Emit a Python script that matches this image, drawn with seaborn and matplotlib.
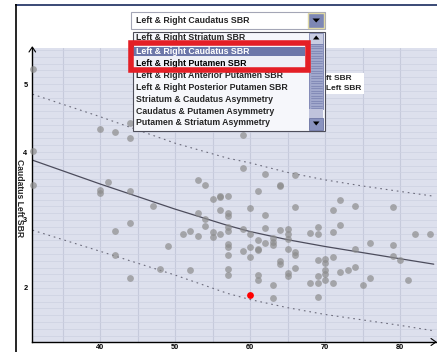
import matplotlib
matplotlib.use("Agg")
import matplotlib.pyplot as plt
import matplotlib.patches as mpatches
from matplotlib.ticker import MultipleLocator, FuncFormatter
import seaborn as sns

# scatter data (age vs caudatus left SBR)
ages = [31, 31, 31,
        40, 40, 40, 41, 42, 42, 42,
        44, 44, 44, 44, 44, 47, 48, 49, 51, 52, 52,
        53, 53, 53, 54, 54, 54, 55, 55, 55, 56, 56, 56, 56,
        57, 57, 57, 57, 57, 57, 57, 57, 57, 57,
        59, 59, 59, 59, 60, 60, 60, 60,
        61, 61, 61, 61, 61, 61, 62, 62, 62, 62,
        63, 63, 63, 63, 63, 64, 64, 64, 64, 64,
        65, 65, 65, 65, 65, 65, 66, 66, 66, 66, 66,
        68, 68, 69, 69, 69, 69, 69, 69, 70, 70, 70, 70, 70,
        71, 71, 71, 71, 72, 72, 72, 73, 74, 74, 74, 75, 76, 76,
        79, 79, 79, 80, 81, 82, 84]
sbr = [5.22, 4.02, 3.52,
       4.34, 3.44, 3.39, 3.56, 4.30, 2.84, 2.49,
       4.42, 4.20, 3.42, 2.96, 2.15, 3.21, 2.28, 2.62, 2.79, 2.84, 2.27,
       3.59, 3.10, 2.76, 3.52, 3.01, 2.91, 3.31, 2.82, 2.75, 3.36, 3.34, 3.15, 2.80,
       3.36, 3.10, 3.06, 2.89, 2.84, 2.65, 2.60, 2.49, 2.28, 2.19,
       4.25, 3.76, 2.86, 2.55, 3.17, 2.79, 2.60, 2.45,
       3.43, 2.71, 2.57, 2.56, 2.19, 2.11, 3.68, 3.08, 2.88, 2.66,
       2.73, 2.68, 2.63, 2.04, 1.85, 3.52, 3.50, 2.85, 2.40, 2.35,
       2.86, 2.80, 2.72, 2.57, 2.22, 2.17, 3.66, 3.19, 2.53, 2.48, 2.30,
       2.81, 2.08, 2.89, 2.79, 2.41, 2.18, 2.08, 1.87, 2.42, 2.36, 2.27, 2.21, 2.11,
       3.15, 2.82, 2.46, 2.08, 3.29, 2.93, 2.24, 2.26, 3.20, 2.58, 2.31, 2.05, 2.66, 2.15,
       3.19, 2.63, 2.47, 2.41, 2.11, 2.80, 2.80]
patient_age = [60]
patient_sbr = [1.89]

# fitted curve and prediction band
fit_age = [31, 40, 50, 57, 60, 65, 70, 75, 80, 84.5]
fit_sbr = [3.88, 3.53, 3.16, 2.92, 2.83, 2.71, 2.61, 2.52, 2.43, 2.35]
upper_sbr = [4.85, 4.52, 4.13, 3.91, 3.84, 3.70, 3.59, 3.50, 3.42, 3.35]
lower_sbr = [2.85, 2.54, 2.19, 1.92, 1.83, 1.71, 1.61, 1.53, 1.45, 1.37]

menu_items = ["Left & Right Striatum SBR", "Left & Right Caudatus SBR",
              "Left & Right Putamen SBR", "Left & Right Anterior Putamen SBR",
              "Left & Right Posterior Putamen SBR", "Striatum & Caudatus Asymmetry",
              "Caudatus & Putamen Asymmetry", "Putamen & Striatum Asymmetry"]
selected = "Left & Right Caudatus SBR"
legend_bits = ["ft SBR", "Left SBR"]  # the only parts of the legend not hidden by the list

sns.set_style("white")
plt.rcParams['font.family'] = ['Liberation Sans', 'DejaVu Sans']
plt.rcParams['font.weight'] = 'bold'

W, H = 437, 352
fig = plt.figure(figsize=(W / 100, H / 100), dpi=100)
ax = fig.add_axes([32 / W, (H - 342) / H, (W - 32) / W, (342 - 48) / H])
ax.set_facecolor('#dde0ed')

ax.set_xlim(30.93, 84.93)
ax.set_ylim(1.205, 5.53)
ax.xaxis.set_major_locator(MultipleLocator(5))
ax.xaxis.set_major_formatter(FuncFormatter(lambda v, p: f"{int(v)}" if v % 10 == 0 else ""))
ax.yaxis.set_major_locator(MultipleLocator(1))
ax.yaxis.set_minor_locator(MultipleLocator(0.1))
ax.grid(axis='x', which='major', color='#c6cadb', lw=0.8)
ax.grid(axis='y', which='both', color='#cdd1e1', lw=0.5)
ax.set_axisbelow(True)

sns.lineplot(x=fit_age, y=upper_sbr, ax=ax, color='#6a6a7a', lw=0.8, linestyle=(0, (1.5, 3.5)))
sns.lineplot(x=fit_age, y=lower_sbr, ax=ax, color='#6a6a7a', lw=0.8, linestyle=(0, (1.5, 3.5)))
sns.lineplot(x=fit_age, y=fit_sbr, ax=ax, color='#4c4c5c', lw=0.9)
sns.scatterplot(x=ages, y=sbr, ax=ax, color='#8c8c8c', alpha=0.7, s=24,
                linewidth=0, clip_on=False, zorder=3)
sns.scatterplot(x=patient_age, y=patient_sbr, ax=ax, color='#ff0000', s=24,
                linewidth=0, zorder=4)

for s in ['top', 'right']:
    ax.spines[s].set_visible(False)
for s in ['left', 'bottom']:
    ax.spines[s].set_color('black')
    ax.spines[s].set_linewidth(1)
ax.tick_params(axis='x', which='major', direction='in', length=3, width=0.8, pad=1.5,
               labelsize=5.3, colors='black')
ax.tick_params(axis='y', which='major', direction='out', length=2.5, width=0.8, pad=0.8,
               labelsize=5.3, colors='black')
ax.tick_params(axis='y', which='minor', length=0)
ax.set_xlabel('')
ax.set_ylabel('Caudatus Left SBR', rotation=270, fontsize=6.2, fontweight='bold', va='center')
ax.yaxis.set_label_coords(-0.031, 0.49)

# overlay in pixel coordinates for frame, arrows and the dropdown widget
ov = fig.add_axes([0, 0, 1, 1], zorder=10)
ov.set_xlim(0, W)
ov.set_ylim(H, 0)
ov.axis('off')
ov.patch.set_alpha(0)

ov.plot([15, W], [4.6, 4.6], color='#2b3b6b', lw=1.3, solid_capstyle='butt')
ov.plot([15.6, 15.6], [4, H], color='black', lw=1.2, solid_capstyle='butt')
ov.plot([29, 32.3, 35.6], [52, 47, 52], color='black', lw=0.8)
ov.plot([431, 436, 431], [338.5, 342, 345.5], color='black', lw=0.8)
ov.text(232, 350.8, 'Age', ha='center', va='top', fontsize=6.2, fontweight='bold')

fs = 6.3
off = 3.1

# legend box partly hidden by the list
ov.add_patch(mpatches.Rectangle((300, 73), 63.5, 21, fc='white', ec='none', zorder=1))
ov.text(325.5, 77.5 + 2.8, legend_bits[0], ha='left', va='baseline', fontsize=6, zorder=1.5)
ov.text(326, 87.3 + 2.8, legend_bits[1], ha='left', va='baseline', fontsize=6, zorder=1.5)

# combo box
ov.add_patch(mpatches.Rectangle((131, 12), 194, 16.5, fc='white', ec='#a4a6b6', lw=0.8, zorder=3))
ov.text(136, 20.3 + off, selected, ha='left', va='baseline', fontsize=fs, zorder=4)
ov.add_patch(mpatches.Rectangle((307.5, 12.5), 16.5, 15.5, fc='#7d87b5', ec='#e0d9a4', lw=1, zorder=4))
ov.add_patch(mpatches.Polygon([(312.5, 18.5), (320, 18.5), (316.2, 22.5)], closed=True,
                              fc='black', ec='none', zorder=5))

# list
list_rect = mpatches.Rectangle((133, 31.5), 192, 99.5, fc='#f6f7fb', ec='#4e4e5a', lw=0.8, zorder=3)
ov.add_patch(list_rect)
rows = [36.7, 50.7, 62.7, 75.3, 86.7, 99, 111, 122.3]
for label, yc in zip(menu_items, rows):
    if label in menu_items[1:3]:
        continue  # drawn inside the red box below
    t = ov.text(136, yc + off, label, ha='left', va='baseline', fontsize=fs, zorder=4)
    t.set_clip_path(list_rect)

# scrollbar
ov.add_patch(mpatches.Rectangle((309, 32.5), 14, 11.5, fc='#c9cde2', ec='#8088b2', lw=0.6, zorder=5))
ov.add_patch(mpatches.Polygon([(313, 39.5), (319.5, 39.5), (316.2, 35.5)], closed=True,
                              fc='black', ec='none', zorder=6))
ov.add_patch(mpatches.Rectangle((309, 44), 14, 65, fc='#a1a8cc', ec='#7880b0', lw=0.6, zorder=5))
for k in range(26):
    yy = 45.5 + k * 2.5
    ov.plot([310.5, 321.5], [yy, yy], color='#7880b0', lw=0.5, zorder=6)
ov.add_patch(mpatches.Rectangle((309, 109), 14, 9, fc='#bfc3dc', ec='none', zorder=5))
ov.add_patch(mpatches.Rectangle((309, 118), 14, 11.5, fc='#8a93bf', ec='#6a72a2', lw=0.6, zorder=5))
ov.add_patch(mpatches.Polygon([(313, 121.5), (319.5, 121.5), (316.2, 125.5)], closed=True,
                              fc='black', ec='none', zorder=6))

# highlighted inset in red box
ov.add_patch(mpatches.Rectangle((133, 46.5), 172, 9.7, fc='#6c77a9', ec='none', zorder=7))
ov.add_patch(mpatches.Rectangle((133, 56.2), 172, 11.5, fc='#eef0f7', ec='none', zorder=7))
ov.text(136, 50.9 + off, menu_items[1], ha='left', va='baseline', fontsize=fs, color='white', zorder=8)
ov.text(136, 62.6 + off, menu_items[2], ha='left', va='baseline', fontsize=fs, color='black', zorder=8)
ov.add_patch(mpatches.Rectangle((130.8, 42.8), 176.9, 27.5, fc='none', ec='#e41f26', lw=4, zorder=9))

fig.savefig('out.png', dpi=100)
